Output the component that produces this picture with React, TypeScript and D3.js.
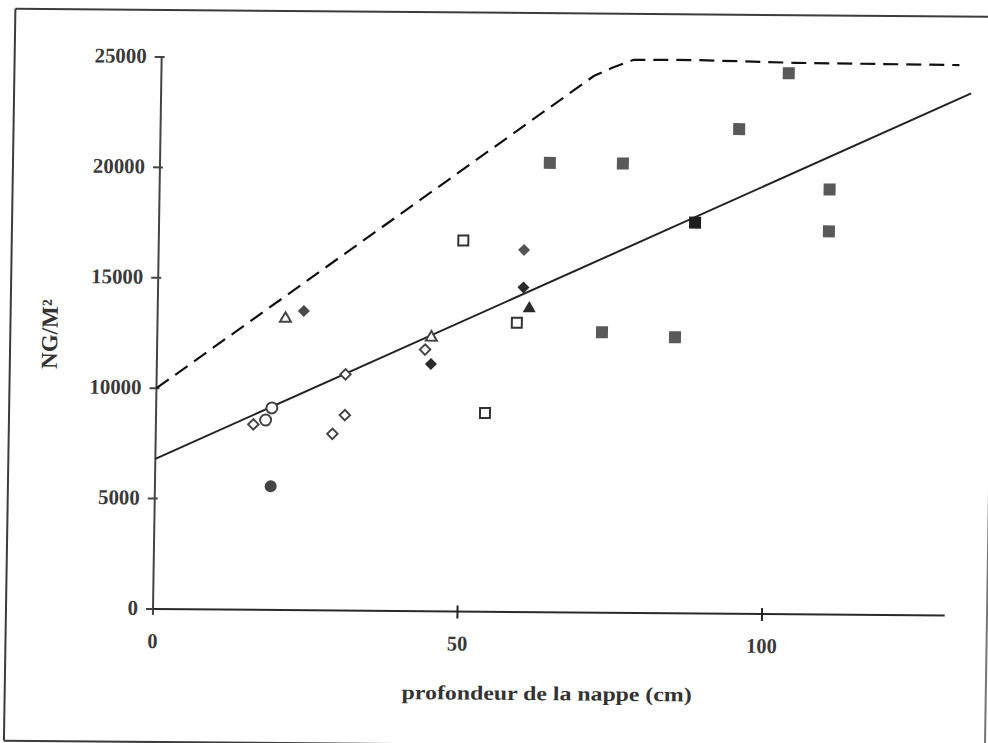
import React from 'react';
import * as d3 from 'd3';

// ---- data ----
const xTickValues = [0, 50, 100];
const yTickValues = [0, 5000, 10000, 15000, 20000, 25000];
const xAxisMax = 130;
const yAxisMax = 25000;
const xTitle = 'profondeur de la nappe (cm)';
const yTitle = 'NG/M²';

const openDiamondX = [16, 29, 31, 31, 44];
const openDiamondY = [8400, 8000, 8850, 10700, 11850];

const openCircleX = [18, 19];
const openCircleY = [8600, 9150];

const filledCircleX = [19];
const filledCircleY = [5600];

const openTriangleX = [21, 45];
const openTriangleY = [13200, 12400];

const filledDiamondX = [24, 45, 60, 60];
const filledDiamondY = [13550, 11200, 14700, 16400];
const filledDiamondShade = ['#4a4a4a', '#2a2a2a', '#2a2a2a', '#555555'];

const filledTriangleX = [61];
const filledTriangleY = [13750];

const openSquareX = [50, 59, 54];
const openSquareY = [16800, 13100, 9000];

const graySquareX = [64, 76, 95, 103, 110, 110, 73, 85];
const graySquareY = [20350, 20350, 21950, 24500, 19250, 17350, 12700, 12500];

const blackSquareX = [88];
const blackSquareY = [17700];

// regression line and upper envelope
const trendX = [0, 133];
const trendY = [6800, 23650];

const envelopeX = [0, 71, 74, 77.5, 88, 104, 131];
const envelopeY = [10000, 24300, 24680, 25050, 25060, 24970, 24930];

// ---- layout ----
const W = 988;
const H = 743;
const ox = 153;
const oy = 609;

const x = d3.scaleLinear().domain([0, 100]).range([ox, ox + 609]);
const y = d3.scaleLinear().domain([0, 25000]).range([oy, 57]);

const zip = (xs: number[], ys: number[]) => xs.map((v, i) => [v, ys[i]] as [number, number]);

const lineGen = d3
  .line<[number, number]>()
  .x((d) => x(d[0]))
  .y((d) => y(d[1]));

const sym = (type: d3.SymbolType, size: number) => d3.symbol().type(type).size(size)() as string;

const squarePath = (s: number) => sym(d3.symbolSquare, s * s);
const diamondPath = (d: number) => sym(d3.symbolSquare, (d * d) / 2);
const trianglePath = (side: number) => sym(d3.symbolTriangle, (Math.sqrt(3) / 4) * side * side);
const circlePath = (r: number) => sym(d3.symbolCircle, Math.PI * r * r);

const serif = '"Liberation Serif", "DejaVu Serif", serif';

export default function App() {
  const tx = `translate(${ox},${oy}) matrix(1,0.0082,-0.0157,1,0,0) translate(${-ox},${-oy})`;
  return (
    <svg
      width={W}
      height={H}
      style={{ position: 'absolute', left: 0, top: 0, background: '#fff' }}
    >
      <rect x={0} y={0} width={W} height={H} fill="#fff" />
      <g transform={tx}>
        {/* frame (scanned border, right side only partly visible) */}
        <g stroke="#3c3c3c" strokeWidth={2} fill="none">
          <line x1={6} y1={10} x2={990} y2={10} />
          <line x1={6} y1={10} x2={6} y2={742} />
          <line x1={6} y1={742} x2={990} y2={742} />
          <line x1={987} y1={290} x2={987} y2={742} stroke="#777" />
        </g>

        {/* y axis */}
        <line x1={x(0)} x2={x(0)} y1={y(yAxisMax)} y2={oy + 6} stroke="#444" strokeWidth={2} />
        {yTickValues.map((v) => (
          <g key={'yt' + v}>
            <line x1={x(0) - 7} x2={x(0) + 3} y1={y(v)} y2={y(v)} stroke="#444" strokeWidth={2} />
            <text
              x={x(0) - 15}
              y={y(v) + 6}
              textAnchor="end"
              fontFamily={serif}
              fontWeight="bold"
              fontSize={21}
              fill="#3a3a3a"
              textLength={String(v).length * 10.4}
              lengthAdjust="spacingAndGlyphs"
            >
              {v}
            </text>
          </g>
        ))}

        {/* x axis */}
        <line x1={x(0)} x2={x(xAxisMax)} y1={oy} y2={oy} stroke="#2a2a2a" strokeWidth={2} />
        {xTickValues.map((v) => (
          <g key={'xt' + v}>
            {v > 0 && (
              <line x1={x(v)} x2={x(v)} y1={oy - 6} y2={oy + 7} stroke="#222" strokeWidth={2} />
            )}
            <text
              x={x(v)}
              y={oy + 39}
              textAnchor="middle"
              fontFamily={serif}
              fontWeight="bold"
              fontSize={21}
              fill="#3a3a3a"
              textLength={String(v).length * 10.2}
              lengthAdjust="spacingAndGlyphs"
            >
              {v}
            </text>
          </g>
        ))}

        {/* titles */}
        <text
          x={548}
          y={697}
          textAnchor="middle"
          fontFamily={serif}
          fontWeight="bold"
          fontSize={20}
          fill="#333"
          textLength={290}
          lengthAdjust="spacingAndGlyphs"
        >
          {xTitle}
        </text>
        <text
          transform={`translate(53,335) rotate(-90)`}
          textAnchor="middle"
          fontFamily={serif}
          fontWeight="bold"
          fontSize={23}
          fill="#333"
        >
          {yTitle}
        </text>

        {/* lines */}
        <path d={lineGen(zip(envelopeX, envelopeY)) as string} fill="none" stroke="#111" strokeWidth={2.2} strokeDasharray="15,8" />
        <path d={lineGen(zip(trendX, trendY)) as string} fill="none" stroke="#222" strokeWidth={2} />

        {/* markers */}
        {zip(graySquareX, graySquareY).map((d, i) => (
          <path key={'gs' + i} d={squarePath(12)} transform={`translate(${x(d[0])},${y(d[1])})`} fill="#595959" />
        ))}
        {zip(blackSquareX, blackSquareY).map((d, i) => (
          <path key={'bs' + i} d={squarePath(12)} transform={`translate(${x(d[0])},${y(d[1])})`} fill="#1e1e1e" />
        ))}
        {zip(openSquareX, openSquareY).map((d, i) => (
          <path key={'os' + i} d={squarePath(10)} transform={`translate(${x(d[0])},${y(d[1])})`} fill="#fff" stroke="#333" strokeWidth={2} />
        ))}
        {zip(filledDiamondX, filledDiamondY).map((d, i) => (
          <path key={'fd' + i} d={diamondPath(12)} transform={`translate(${x(d[0])},${y(d[1])}) rotate(45)`} fill={filledDiamondShade[i]} />
        ))}
        {zip(openDiamondX, openDiamondY).map((d, i) => (
          <path key={'od' + i} d={diamondPath(10.5)} transform={`translate(${x(d[0])},${y(d[1])}) rotate(45)`} fill="#fff" stroke="#444" strokeWidth={1.9} />
        ))}
        {zip(openCircleX, openCircleY).map((d, i) => (
          <path key={'oc' + i} d={circlePath(5.5)} transform={`translate(${x(d[0])},${y(d[1])})`} fill="#fff" stroke="#444" strokeWidth={2} />
        ))}
        {zip(filledCircleX, filledCircleY).map((d, i) => (
          <path key={'fc' + i} d={circlePath(6)} transform={`translate(${x(d[0])},${y(d[1])})`} fill="#444" />
        ))}
        {zip(openTriangleX, openTriangleY).map((d, i) => (
          <path key={'ot' + i} d={trianglePath(11)} transform={`translate(${x(d[0])},${y(d[1])})`} fill="#fff" stroke="#444" strokeWidth={2} />
        ))}
        {zip(filledTriangleX, filledTriangleY).map((d, i) => (
          <path key={'ft' + i} d={trianglePath(13)} transform={`translate(${x(d[0])},${y(d[1])})`} fill="#2a2a2a" />
        ))}
      </g>
    </svg>
  );
}
